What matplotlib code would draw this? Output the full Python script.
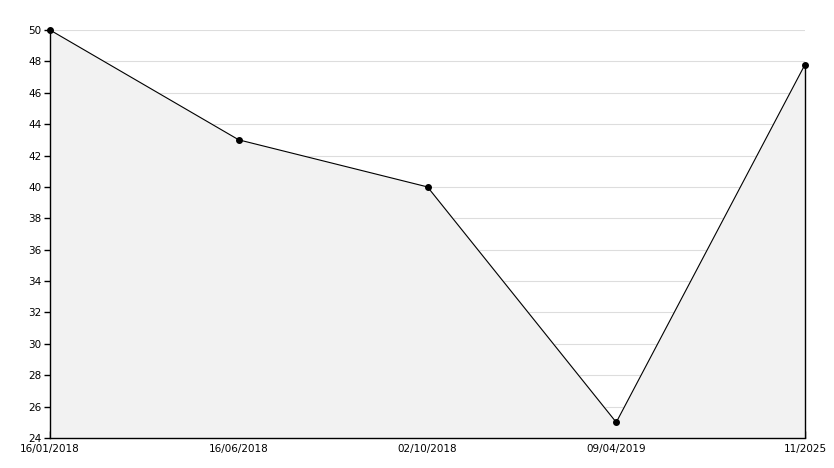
import matplotlib
matplotlib.use("Agg")
import matplotlib.pyplot as plt
from matplotlib.ticker import MultipleLocator

labels = ["16/01/2018", "16/06/2018", "02/10/2018", "09/04/2019", "11/2025"]
values = [50, 43, 40, 25, 47.8]

fig = plt.figure(figsize=(8.34, 4.68), dpi=100)
ax = fig.add_axes([50/834, 30/468, (805-50)/834, (438-30)/468])
x = list(range(len(values)))
ax.fill_between(x, values, 24, color="#f2f2f2", zorder=1)
ax.plot(x, values, color="black", lw=0.8, marker="o", ms=4, zorder=3, clip_on=False)
ax.vlines(x[-1], 24, values[-1], color="black", lw=1.0, zorder=2, clip_on=False)
ax.set_xlim(0, len(values)-1)
ax.set_ylim(24, 50)
ax.yaxis.set_major_locator(MultipleLocator(2))
ax.yaxis.set_minor_locator(MultipleLocator(1))
ax.grid(axis="y", which="major", color="#dddddd", lw=0.8, zorder=0)
ax.set_axisbelow(True)
ax.set_xticks(x)
ax.set_xticklabels(labels)
for s in ["top", "right"]:
    ax.spines[s].set_visible(False)
for s in ["left", "bottom"]:
    ax.spines[s].set_linewidth(1.0)
ax.tick_params(axis="y", which="major", direction="out", length=4, width=1, labelsize=7.5, pad=2)
ax.tick_params(axis="y", which="minor", direction="in", length=4, width=1)
ax.tick_params(axis="x", which="major", direction="in", length=5, width=1, labelsize=7.5, pad=4)
fig.savefig("out.png", dpi=100)
